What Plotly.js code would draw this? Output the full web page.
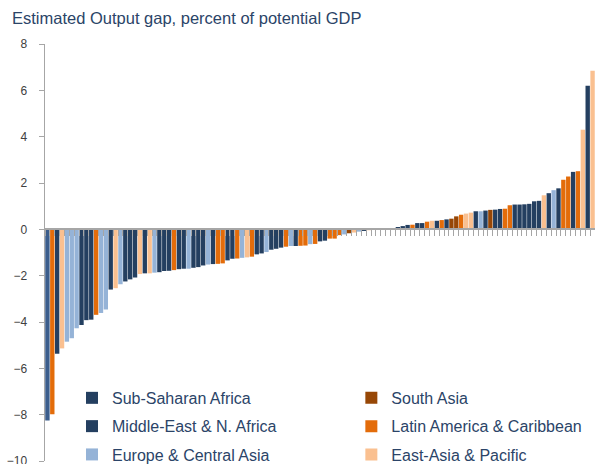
<!DOCTYPE html>
<html><head><meta charset="utf-8">
<script src="https://cdn.plot.ly/plotly-3.0.1.min.js"></script>
<style>html,body{margin:0;padding:0;background:#fff}#chart{width:595px;height:464px}</style>
</head><body><div id="chart"></div>
<script>
// Estimated output gap (% of potential GDP), one bar per country, sorted
const values = [
  -8.25, -7.98, -5.37, -5.14, -4.85, -4.70, -4.27, -4.13, -3.92, -3.90,
  -3.69, -3.61, -3.46, -2.60, -2.54, -2.37, -2.25, -2.16, -2.08, -1.93,
  -1.90, -1.90, -1.87, -1.85, -1.80, -1.79, -1.76, -1.72, -1.70, -1.70,
  -1.66, -1.63, -1.56, -1.52, -1.50, -1.49, -1.47, -1.34, -1.27, -1.26,
  -1.23, -1.21, -1.18, -1.08, -1.04, -0.98, -0.88, -0.84, -0.79, -0.75,
  -0.72, -0.72, -0.71, -0.70, -0.64, -0.63, -0.52, -0.49, -0.40, -0.40,
  -0.25, -0.22, -0.17, -0.14, -0.10, -0.07, -0.04, -0.03, 0.00, 0.00,
  0.00, 0.00, 0.10, 0.14, 0.19, 0.20, 0.27, 0.27, 0.33, 0.37,
  0.37, 0.40, 0.43, 0.46, 0.56, 0.63, 0.68, 0.72, 0.78, 0.78,
  0.81, 0.84, 0.85, 0.88, 0.89, 1.04, 1.07, 1.07, 1.08, 1.10,
  1.21, 1.23, 1.47, 1.56, 1.69, 1.77, 2.14, 2.28, 2.48, 2.51,
  4.30, 6.20, 6.84
];
const regions = [
  'SSA','LAC','SSA','EAP','ECA','ECA','ECA','SSA','SSA','MENA',
  'LAC','ECA','ECA','SSA','EAP','ECA','SSA','MENA','SSA','EAP',
  'SSA','EAP','ECA','SSA','MENA','SSA','LAC','SSA','SSA','ECA',
  'SSA','MENA','SSA','ECA','SSA','LAC','LAC','SSA','SSA','LAC',
  'ECA','EAP','LAC','SSA','MENA','ECA','SSA','SSA','SSA','LAC',
  'ECA','SSA','LAC','LAC','ECA','LAC','SSA','SSA','LAC','LAC',
  'LAC','ECA','SA','EAP','ECA','SSA','EAP','LAC','SSA','ECA',
  'EAP','LAC','SSA','SSA','MENA','LAC','SSA','SSA','LAC','EAP',
  'SSA','LAC','SSA','SA','SA','LAC','EAP','EAP','SSA','ECA',
  'SSA','SA','SSA','SSA','LAC','LAC','SSA','MENA','SSA','SSA',
  'SSA','MENA','EAP','SSA','ECA','SSA','LAC','LAC','SSA','LAC',
  'EAP','MENA','EAP'
];
const regionCodes = ['SSA','MENA','ECA','SA','LAC','EAP'];
const regionLabels = ['Sub-Saharan Africa','Middle-East & N. Africa','Europe & Central Asia',
                      'South Asia','Latin America & Caribbean','East-Asia & Pacific'];
const titleText = 'Estimated Output gap, percent of potential GDP';

const regionColors = {SSA:'#243f60', MENA:'#243f60', ECA:'#95b3d7', SA:'#974706', LAC:'#e36c0a', EAP:'#fac090'};
const highlightIndex = 0;
const highlightColor = '#3b5d8c';
const FONT = 'Liberation Sans, Arial, sans-serif';
const TXT = '#2b4468';

const traces = regionCodes.map((code, k) => {
  const xs = [], ys = [];
  values.forEach((v, i) => { if (regions[i] === code && i !== highlightIndex) { xs.push(i); ys.push(v); } });
  return {
    type: 'bar', x: xs, y: ys, width: 0.9, name: regionLabels[k],
    legend: k < 3 ? 'legend' : 'legend2', legendgroup: code,
    marker: {color: regionColors[code], line: {width: 0}},
    hoverinfo: 'y'
  };
});
traces.push({
  type: 'bar', x: [highlightIndex], y: [values[highlightIndex]], width: 0.9,
  showlegend: false, marker: {color: highlightColor, line: {width: 0}}, hoverinfo: 'y'
});

const legendBase = {
  orientation: 'v', traceorder: 'grouped', tracegroupgap: 4.5,
  font: {family: FONT, size: 16, color: TXT}, bgcolor: 'rgba(0,0,0,0)',
  xanchor: 'left', yanchor: 'top', y: 0.192
};

const layout = {
  width: 595, height: 464,
  margin: {l: 45, r: 0, t: 44, b: 3, pad: 0, autoexpand: false},
  paper_bgcolor: '#fff', plot_bgcolor: '#fff',
  barmode: 'overlay',
  title: {text: titleText, x: 12/595, xanchor: 'left', xref: 'container', y: 1 - 18/464, yanchor: 'middle', yref: 'container',
          font: {family: FONT, size: 16.5, color: TXT}},
  xaxis: {
    range: [-0.5, values.length - 0.5], anchor: 'free', position: 10/18,
    showline: true, linecolor: '#a6a6a6', linewidth: 2,
    ticks: 'outside', tickmode: 'linear', tick0: -0.5, dtick: 1, ticklen: 6, tickwidth: 1, tickcolor: '#a6a6a6',
    showticklabels: false, showgrid: false, zeroline: false, fixedrange: true
  },
  yaxis: {
    range: [-10, 8], tickmode: 'linear', tick0: 0, dtick: 2,
    showline: true, linecolor: '#a6a6a6', linewidth: 1.5,
    ticks: 'outside', ticklen: 5, tickcolor: '#a6a6a6', ticklabelstandoff: 9,
    ticklabeloverflow: 'allow',
    tickfont: {family: FONT, size: 12, color: '#404040'},
    showgrid: false, zeroline: false, fixedrange: true
  },
  legend: Object.assign({}, legendBase, {x: 27/550}),
  legend2: Object.assign({}, legendBase, {x: 0.557}),
  showlegend: true
};

Plotly.newPlot('chart', traces, layout, {displayModeBar: false, staticPlot: true});
</script>
</body></html>
